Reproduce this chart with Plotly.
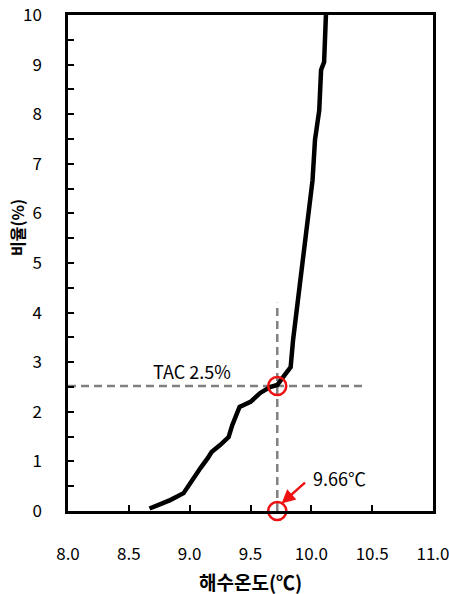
import plotly.graph_objects as go

# Curve: sea water temperature vs cumulative ratio
temp = [8.67, 8.75, 8.84, 8.95, 9.02, 9.09, 9.15, 9.18, 9.25, 9.32, 9.35, 9.39, 9.41,
        9.50, 9.58, 9.66, 9.72, 9.78, 9.83, 9.85, 9.89, 9.93, 9.97, 10.01, 10.03,
        10.065, 10.08, 10.105, 10.12]
ratio = [0.05, 0.12, 0.22, 0.36, 0.63, 0.87, 1.07, 1.19, 1.33, 1.49, 1.73, 2.0, 2.10,
         2.2, 2.38, 2.5, 2.54, 2.74, 2.9, 3.45, 4.25, 4.92, 5.9, 6.67, 7.48,
         8.08, 8.89, 9.05, 10.0]

# Reference guide lines
tac_x = 9.72
tac_y = 2.52
vline_y = [0, 4.2]
hline_x = [8.0, 10.42]

x_ticks = [8.0, 8.5, 9.0, 9.5, 10.0, 10.5, 11.0]
x_ticklabels = ["8.0", "8.5", "9.0", "9.5", "10.0", "10.5", "11.0"]
y_ticks = [0, 1, 2, 3, 4, 5, 6, 7, 8, 9, 10]

FONT = "Noto Sans CJK KR"
W, H = 449, 594
ML, MR, MT, MB = 68, 16, 15, 83

fig = go.Figure()

fig.add_trace(go.Scatter(x=[tac_x, tac_x], y=vline_y, mode="lines",
                         line=dict(color="#808080", width=2.5, dash="8px,5px"),
                         hoverinfo="skip", showlegend=False))
fig.add_trace(go.Scatter(x=hline_x, y=[tac_y, tac_y], mode="lines",
                         line=dict(color="#808080", width=2.5, dash="8px,5px"),
                         hoverinfo="skip", showlegend=False))
fig.add_trace(go.Scatter(x=temp, y=ratio, mode="lines",
                         line=dict(color="black", width=4.5),
                         showlegend=False))
fig.add_trace(go.Scatter(x=[tac_x, tac_x], y=[tac_y, 0], mode="markers",
                         marker=dict(symbol="circle-open", size=18,
                                     line=dict(color="#ee1111", width=2.5),
                                     color="#ee1111"),
                         cliponaxis=False, showlegend=False))

fig.add_annotation(x=8.68, y=2.83, xref="x", yref="y", text="TAC 2.5%",
                   showarrow=False, xanchor="left",
                   font=dict(family=FONT, size=18, color="black"))
fig.add_annotation(x=tac_x + 0.035, y=0.15, ax=tac_x + 0.24, ay=0.6,
                   xref="x", yref="y", axref="x", ayref="y",
                   text="", showarrow=True, arrowhead=2, arrowsize=1.1,
                   arrowwidth=2.5, arrowcolor="#ee1111")
fig.add_annotation(x=tac_x + 0.28, y=0.67, xref="x", yref="y", text="9.66℃",
                   showarrow=False, xanchor="left",
                   font=dict(family=FONT, size=18, color="black"))
fig.add_annotation(x=(17 - ML) / (W - ML - MR), y=(H - MB - 228) / (H - MT - MB),
                   xref="paper", yref="paper", text="<b>비율(%)</b>",
                   showarrow=False, textangle=-90, xanchor="center", yanchor="middle",
                   font=dict(family=FONT, size=16, color="black"))
fig.add_annotation(x=0.5, y=(H - MB - 581) / (H - MT - MB),
                   xref="paper", yref="paper", text="<b>해수온도(℃)</b>",
                   showarrow=False, xanchor="center", yanchor="middle",
                   font=dict(family=FONT, size=19, color="black"))

fig.update_layout(
    width=W, height=H,
    margin=dict(l=ML, r=MR, t=MT, b=MB, autoexpand=False),
    paper_bgcolor="white", plot_bgcolor="white",
    font=dict(family=FONT, size=17, color="black"),
    xaxis=dict(range=[8.0, 11.0], tickvals=x_ticks, ticktext=x_ticklabels,
               ticks="inside", ticklen=6, tickwidth=2, tickcolor="black",
               showline=True, linecolor="black", linewidth=2.5, mirror=True,
               showgrid=False, zeroline=False, ticklabelstandoff=26,
               automargin=False, ticklabeloverflow="allow",
               tickfont=dict(family=FONT, size=17, color="black")),
    yaxis=dict(range=[0, 10], tickvals=y_ticks,
               ticks="inside", ticklen=6, tickwidth=2, tickcolor="black",
               minor=dict(dtick=0.5, ticks="inside", ticklen=6, tickwidth=2,
                          tickcolor="black", showgrid=False),
               showline=True, linecolor="black", linewidth=2.5, mirror=True,
               showgrid=False, zeroline=False, ticklabelstandoff=20,
               automargin=False, ticklabeloverflow="allow",
               tickfont=dict(family=FONT, size=17, color="black")),
)

fig.write_html("out.html", config={"displayModeBar": False},
               post_script="document.body.style.margin='0';document.body.style.overflow='hidden';")
